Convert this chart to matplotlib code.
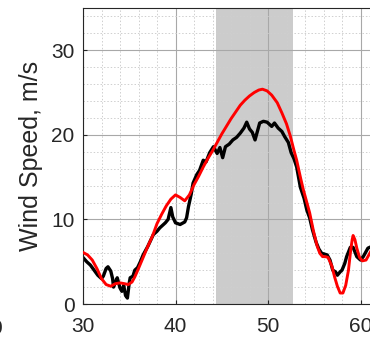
import numpy as np
import matplotlib.pyplot as plt
from matplotlib.ticker import MultipleLocator

plt.rcParams['font.family'] = ['Liberation Sans', 'DejaVu Sans']

# measured wind speed (black)
t_meas = [30.0, 30.4, 30.8, 31.2, 31.6, 32.0, 32.2, 32.5, 32.7, 33.0, 33.2, 33.3,
          33.5, 33.7, 33.9, 34.0, 34.2, 34.4, 34.6, 34.8, 35.0, 35.1, 35.4, 35.6,
          35.9, 36.2, 36.5, 37.0, 37.6, 38.0, 38.3, 38.9, 39.2, 39.5, 39.7, 40.0,
          40.5, 41.0, 41.2, 41.4, 41.7, 41.9, 42.3, 42.6, 43.0, 43.3, 43.7, 44.1,
          44.5, 44.8, 45.1, 45.4, 45.8, 46.2, 46.6, 47.0, 47.4, 47.7, 48.0, 48.3,
          48.6, 49.1, 49.5, 49.9, 50.4, 50.7, 51.1, 51.5, 51.8, 52.2, 52.5, 52.8,
          53.1, 53.5, 53.9, 54.2, 54.5, 54.8, 55.2, 55.5, 55.8, 56.1, 56.4, 56.7,
          57.0, 57.3, 57.5, 57.8, 58.0, 58.3, 58.5, 58.9, 59.2, 59.6, 60.0, 60.3,
          60.5, 60.8, 61.2]
v_meas = [5.5, 5.0, 4.6, 4.0, 3.4, 3.0, 3.3, 4.2, 4.4, 3.9, 3.0, 2.0,
          2.6, 3.1, 2.3, 1.9, 1.5, 2.2, 1.0, 0.7, 2.5, 3.1, 3.3, 4.0,
          4.3, 5.0, 5.8, 6.8, 8.2, 8.6, 9.0, 9.6, 10.0, 11.4, 10.3, 9.6,
          9.4, 9.7, 10.2, 11.5, 13.0, 14.3, 15.3, 15.8, 17.0, 16.8, 17.9, 18.6,
          17.8, 18.5, 17.3, 18.6, 18.9, 19.4, 19.7, 20.2, 20.8, 21.5, 20.7, 20.3,
          19.4, 21.4, 21.6, 21.5, 21.0, 21.4, 20.8, 20.4, 19.8, 19.1, 17.9, 17.2,
          16.2, 13.8, 12.5, 11.1, 10.2, 8.8, 7.3, 6.5, 6.0, 5.9, 5.8, 5.2,
          4.0, 3.8, 3.4, 3.8, 4.0, 4.8, 5.6, 6.7, 6.7, 5.6, 5.2, 5.6,
          6.0, 6.6, 6.8]

# model wind speed (red)
t_model = [30.0, 30.5, 31.0, 31.5, 32.0, 32.5, 33.0, 33.5, 34.0, 34.5, 34.9, 35.3,
           35.6, 36.0, 36.5, 37.0, 37.5, 38.0, 38.5, 39.0, 39.5, 40.0, 40.5, 41.0,
           41.5, 42.0, 42.5, 43.0, 43.5, 44.0, 44.5, 45.0, 45.5, 46.0, 46.5, 47.0,
           47.5, 48.0, 48.5, 49.0, 49.4, 49.9, 50.4, 51.0, 51.5, 52.0, 52.4, 52.8,
           53.1, 53.5, 53.8, 54.2, 54.5, 54.9, 55.3, 55.6, 55.9, 56.2, 56.5, 56.9,
           57.2, 57.5, 57.8, 58.1, 58.4, 58.7, 58.9, 59.1, 59.2, 59.4, 59.6, 59.9,
           60.2, 60.6, 61.0, 61.3]
v_model = [6.1, 5.8, 5.2, 4.2, 3.0, 2.3, 2.1, 2.4, 2.5, 2.4, 2.3, 2.6,
           3.2, 4.2, 5.5, 6.8, 8.0, 9.5, 10.6, 11.6, 12.4, 12.9, 12.6, 12.2,
           12.9, 14.1, 15.1, 16.2, 17.2, 18.1, 19.1, 20.1, 21.0, 21.9, 22.7, 23.5,
           24.1, 24.6, 25.0, 25.3, 25.4, 25.2, 24.7, 23.8, 22.6, 21.3, 19.9, 18.2,
           17.0, 15.0, 13.6, 12.0, 10.8, 8.7, 6.9, 6.0, 5.6, 5.6, 5.5, 4.5,
           3.2, 2.1, 1.3, 1.3, 2.2, 4.0, 6.0, 7.6, 8.1, 7.6, 6.6, 5.5,
           5.1, 5.2, 6.0, 6.6]

shade_span = (44.4, 52.7)

fig = plt.figure(figsize=(3.7, 3.39), dpi=100)
ax = fig.add_axes([83 / 370, 35 / 339, 1.0, 296 / 339])

ax.axvspan(*shade_span, color='#cccccc', lw=0, zorder=0.2)
ax.plot(t_meas, v_meas, color='black', lw=2.4, solid_joinstyle='round', zorder=2)
ax.plot(t_model, v_model, color='red', lw=2.1, solid_joinstyle='round', zorder=3)

ax.set_xlim(30, 70)
ax.set_ylim(0, 35)
ax.xaxis.set_major_locator(MultipleLocator(10))
ax.yaxis.set_major_locator(MultipleLocator(10))
ax.xaxis.set_minor_locator(MultipleLocator(2))
ax.yaxis.set_minor_locator(MultipleLocator(2))
ax.set_axisbelow(True)
ax.grid(which='major', color='#a8a8a8', lw=0.8)
ax.grid(which='minor', color='#cfcfcf', lw=0.7, ls=(0, (1.5, 2)))
ax.tick_params(which='major', direction='in', length=3, labelsize=15,
               colors='#262626', pad=6)
ax.tick_params(axis='x', pad=9)
ax.tick_params(which='minor', length=0)
for s in ax.spines.values():
    s.set_color('#262626')
    s.set_linewidth(0.8)

ax.set_ylabel('Wind Speed, m/s', fontsize=18, color='#262626')
ax.yaxis.set_label_coords(-0.108, 0.5)

# edge of the neighbouring panel's tick label
fig.text(2 / 370, 1 - 328 / 339, '0', ha='right', va='center', fontsize=15,
         color='#262626')

fig.savefig('out.png', dpi=100)
